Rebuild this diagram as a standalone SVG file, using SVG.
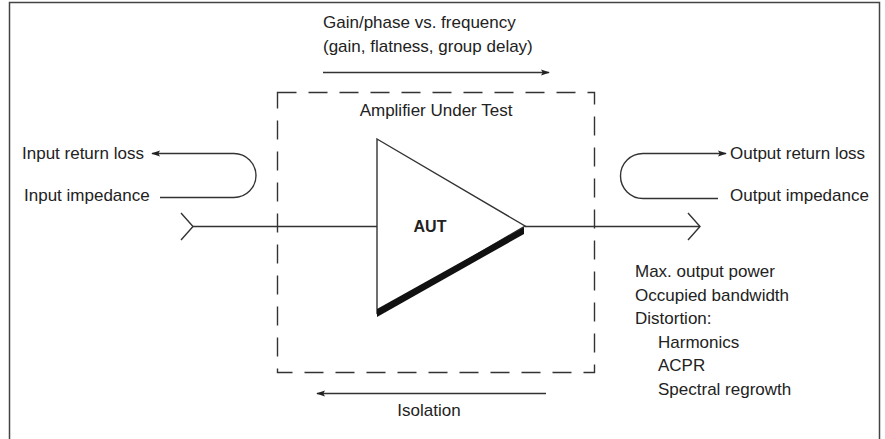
<svg xmlns="http://www.w3.org/2000/svg" width="885" height="439" viewBox="0 0 885 439">
<style>
text{font-family:"Liberation Sans",Arial,sans-serif;font-size:17px;fill:#222}
.ln{fill:none;stroke:#333;stroke-width:1.4}
.dash{fill:none;stroke:#333;stroke-width:1.4;stroke-dasharray:19 12}
</style>
<defs>
<marker id="ah" viewBox="0 0 10 10" refX="9" refY="5" markerWidth="9" markerHeight="9" markerUnits="userSpaceOnUse" orient="auto">
<path d="M0,1.5 L10,5 L0,8.5 L2,5 Z" fill="#222"/>
</marker>
</defs>
<rect x="9.5" y="2.5" width="870" height="445" fill="#fff" stroke="#444" stroke-width="1.5"/>
<g id="dut-box">
<rect class="dash" x="277.5" y="92.5" width="317" height="280"/>
<text x="436" y="116" text-anchor="middle">Amplifier Under Test</text>
</g>
<g id="aut">
<polygon points="377,139 525,226 377,313" fill="#fff" stroke="#333" stroke-width="1.4"/>
<polygon points="377,309 524,227 524,234 377,317" fill="#111"/>
<text x="430" y="232" text-anchor="middle" style="font-weight:bold;font-size:16px">AUT</text>
</g>
<g id="gain-label">
<text x="323" y="28">Gain/phase vs. frequency</text>
<text x="323" y="52">(gain, flatness, group delay)</text>
</g>
<g id="input-labels">
<text x="22" y="159">Input return loss</text>
<text x="24" y="201">Input impedance</text>
</g>
<g id="output-labels">
<text x="730" y="159">Output return loss</text>
<text x="730" y="201">Output impedance</text>
</g>
<g id="output-params">
<text x="635" y="277">Max. output power</text>
<text x="635" y="300.5">Occupied bandwidth</text>
<text x="635" y="324">Distortion:</text>
<text x="658" y="347.5">Harmonics</text>
<text x="658" y="371">ACPR</text>
<text x="658" y="394.5">Spectral regrowth</text>
</g>
<g id="isolation-label">
<text x="429" y="416" text-anchor="middle">Isolation</text>
</g>
<g id="connectors">
<line class="ln" x1="323" y1="72.5" x2="549" y2="72.5" marker-end="url(#ah)"/>
<line class="ln" x1="546" y1="393.5" x2="317" y2="393.5" marker-end="url(#ah)"/>
<polyline class="ln" points="181,213 193,226.5 181,240"/>
<line class="ln" x1="193" y1="226.5" x2="377" y2="226.5"/>
<line class="ln" x1="525" y1="226.5" x2="700" y2="226.5"/>
<polyline class="ln" points="688,213 700,226.5 688,240"/>
<path class="ln" d="M160,197.5 H234 A22,22 0 0 0 234,153.5 H152" marker-end="url(#ah)"/>
<path class="ln" d="M718,198.5 H643 A22,22 0 0 1 643,153.5 H726" marker-end="url(#ah)"/>
</g>
</svg>
